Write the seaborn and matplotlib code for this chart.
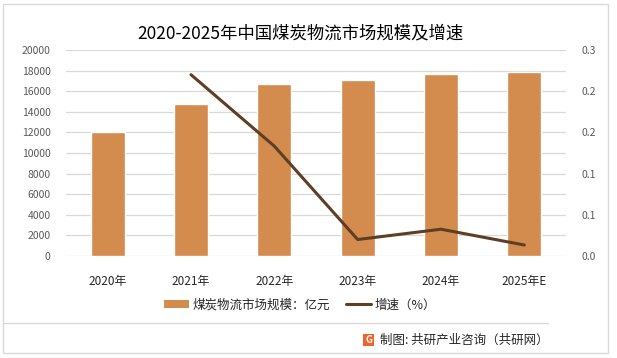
import numpy as np
import pandas as pd
import matplotlib
matplotlib.use("Agg")
import matplotlib.pyplot as plt
from matplotlib.patches import Rectangle
from matplotlib.lines import Line2D
import seaborn as sns

years = ["2020年", "2021年", "2022年", "2023年", "2024年", "2025年E"]
scale = [12070, 14760, 16700, 17090, 17670, 17860]
growth = [np.nan, 0.264, 0.160, 0.024, 0.039, 0.016]
left_ticks = list(range(0, 20001, 2000))
right_ticks = [0.0, 0.06, 0.12, 0.18, 0.24, 0.30]

sns.set_theme(style="white")
plt.rcParams['font.family'] = ['Noto Sans CJK SC', 'DejaVu Sans']
plt.rcParams['axes.unicode_minus'] = False

BAR = "#D38B4E"
LINE = "#5E3F26"
GRID = "#D9D9D9"
TXT = "#595959"

W, H = 617, 358
fig = plt.figure(figsize=(W / 100, H / 100), dpi=100)
ax = fig.add_axes([66 / W, 1 - 256 / H, 500 / W, 206 / H])

df = pd.DataFrame({"year": years, "scale": scale, "growth": growth, "pos": np.arange(len(years))})

sns.barplot(data=df, x="year", y="scale", color=BAR, width=0.41, ax=ax, saturation=1, zorder=3)
ax.set_xlim(-0.5, len(years) - 0.5)
ax.set_ylim(0, 20000)
ax.set_yticks(left_ticks)
ax.set_yticklabels([str(t) for t in left_ticks])
ax.grid(axis="y", color=GRID, linewidth=0.9, zorder=0)
ax.set_axisbelow(True)
ax.set_xlabel("")
ax.set_ylabel("")
for s in ax.spines.values():
    s.set_visible(False)
ax.tick_params(axis="y", length=0, pad=11, labelsize=7.5, labelcolor=TXT)
ax.tick_params(axis="x", length=0, pad=14, labelsize=8.5, labelcolor="#262626")

ax2 = ax.twinx()
d2 = df.dropna()
sns.lineplot(data=d2, x="pos", y="growth", color=LINE, linewidth=2.2, ax=ax2, zorder=4)
ax2.set_ylim(0, 0.3)
ax2.set_yticks(right_ticks)
ax2.set_yticklabels([f"{t:.1f}" for t in right_ticks])
ax2.set_xlim(-0.5, len(years) - 0.5)
ax2.set_xlabel("")
ax2.set_ylabel("")
for s in ax2.spines.values():
    s.set_visible(False)
ax2.tick_params(axis="y", length=0, pad=11, labelsize=7.5, labelcolor=TXT)
ax2.grid(False)

# Title
fig.text(300 / W, 1 - 33 / H, "2020-2025年中国煤炭物流市场规模及增速", ha="center", va="center",
         fontsize=12.5, color="#000000")

# Legend
handles = [Rectangle((0, 0), 1, 1, facecolor=BAR, edgecolor="none"),
           Line2D([0], [0], color=LINE, linewidth=2.2)]
fig.legend(handles, ["煤炭物流市场规模：亿元", "增速（%）"], loc="center",
           bbox_to_anchor=(300 / W, 1 - 305 / H), ncol=2, frameon=False, fontsize=9,
           handlelength=2.0, handleheight=0.6, columnspacing=1.2, handletextpad=0.3,
           labelcolor="#262626")

# Frame and separator
fig.add_artist(Rectangle((3 / W, 1 - 353 / H), 605 / W, 349 / H, transform=fig.transFigure,
                         fill=False, edgecolor=GRID, linewidth=1))
fig.add_artist(Line2D([3 / W, 548 / W], [1 - 323 / H, 1 - 323 / H], transform=fig.transFigure,
                      color=GRID, linewidth=1))

# Source with icon
fig.add_artist(Rectangle((363 / W, 1 - 346 / H), 11 / W, 12 / H, transform=fig.transFigure,
                         facecolor="#F0642A", edgecolor="none"))
fig.text(368.5 / W, 1 - 340 / H, "G", ha="center", va="center", fontsize=7, color="white",
         fontweight="bold")
fig.text(380 / W, 1 - 340 / H, "制图: 共研产业咨询（共研网）", ha="left", va="center",
         fontsize=9, color="#262626")

fig.savefig("out.png", dpi=100)
